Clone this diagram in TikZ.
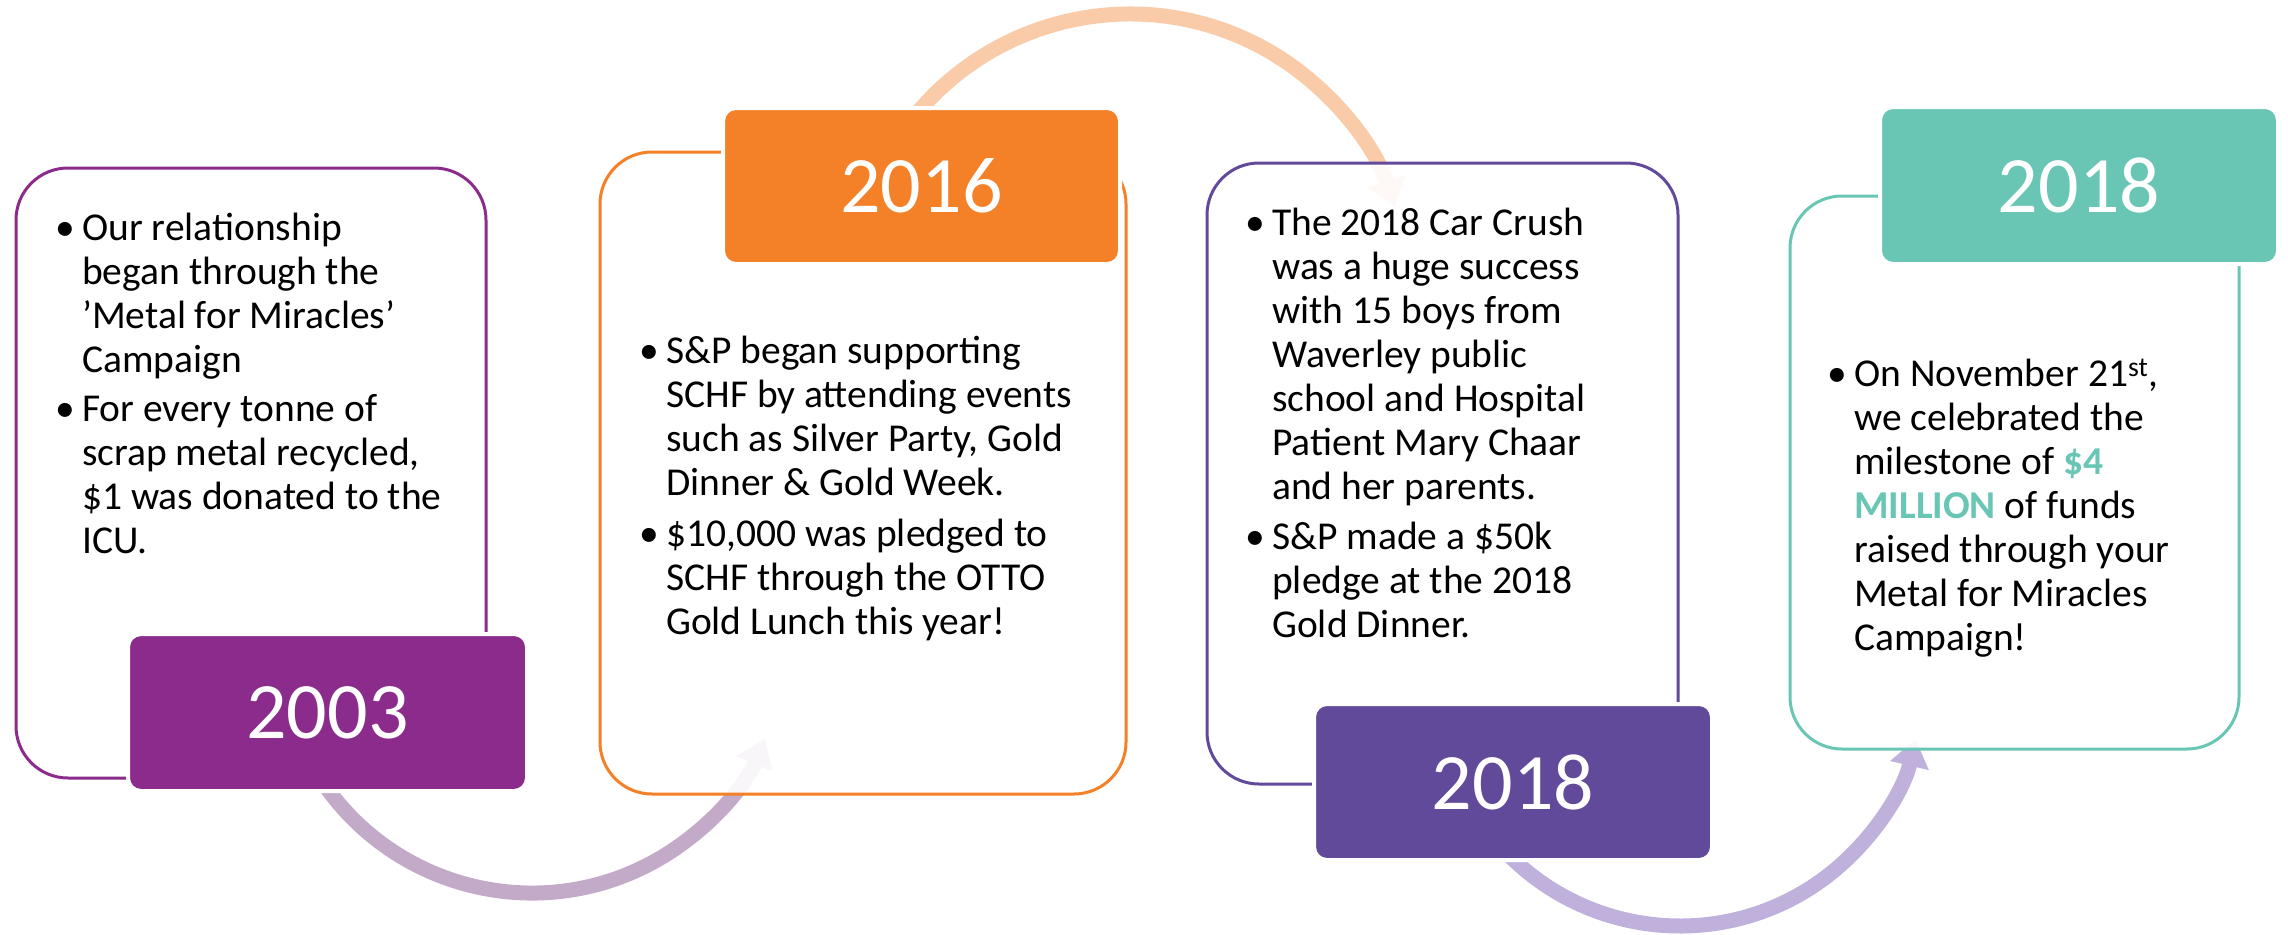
\documentclass[tikz,border=0pt]{standalone}
\usepackage{fontspec}
\setmainfont{Carlito}
\usetikzlibrary{arrows.meta}
\definecolor{cA}{HTML}{8B2C8C}
\definecolor{cB}{HTML}{F48027}
\definecolor{cC}{HTML}{614A9A}
\definecolor{cD}{HTML}{6AC6B4}
\definecolor{aA}{HTML}{C4AAC9}
\definecolor{aB}{HTML}{FACBA8}
\definecolor{aC}{HTML}{BFB1DB}
\newcommand\bodyfont{\fontsize{39.5}{44}\selectfont}
\newcommand\yearfont{\fontsize{80}{90}\selectfont}
\newcommand\bul{\llap{\textbullet\hspace{7pt}}}
\tikzset{
  frame/.style={draw=#1, line width=3pt, rounded corners=52pt, fill=white, fill opacity=0.9, inner sep=0pt},
  yearbox/.style={fill=#1, draw=white, line width=4pt, rounded corners=13pt, text=white, font=\yearfont, inner sep=0pt},
  body/.style={anchor=base west, align=left, inner sep=0pt, font=\bodyfont, text=black},
  arcarrow/.style={line width=15pt, draw=#1, -{Triangle[width=38pt,length=27pt]}},
}
\begin{document}
\begin{tikzpicture}[x=1pt,y=1pt]
\useasboundingbox (0,0) rectangle (2288,-934);
% arc centres
\coordinate (c1) at (532,-640);
\coordinate (c2) at (1130,-292);
\coordinate (c3) at (1680,-684);
% arrows (drawn first, under boxes)
\draw[arcarrow=aA] (c1) ++(-150:253pt) arc[start angle=-150, end angle=-23, radius=253pt];
\draw[arcarrow=aB] (c2) ++(145:278pt) arc[start angle=145, end angle=17.8, radius=278pt];
\draw[arcarrow=aC] (c3) ++(-140:242pt) arc[start angle=-140, end angle=-13.2, radius=242pt];
% frames
\node[frame=cA, minimum width=470pt, minimum height=610pt] (f1) at (251,-473) {};
\node[frame=cB, minimum width=526pt, minimum height=642pt] (f2) at (863,-473) {};
\node[frame=cC, minimum width=471pt, minimum height=621pt] (f3) at (1442.5,-473.5) {};
\node[frame=cD, minimum width=449pt, minimum height=553pt] (f4) at (2014.5,-472.5) {};
% texts (anchored at the baseline of their last line)
\node[body] (t1a) at (82,-372.5) {\bul Our relationship\\began through the\\’Metal for Miracles’\\Campaign};
\node[body] (t1b) at (82,-553.5) {\bul For every tonne of\\scrap metal recycled,\\\$1 was donated to the\\ICU.};
\node[body] (t2a) at (666,-495) {\bul S\&P began supporting\\SCHF by attending events\\such as Silver Party, Gold\\Dinner \& Gold Week.};
\node[body] (t2b) at (666,-634) {\bul \$10,000 was pledged to\\SCHF through the OTTO\\Gold Lunch this year!};
\node[body] (t3a) at (1272,-499) {\bul The 2018 Car Crush\\was a huge success\\with 15 boys from\\Waverley public\\school and Hospital\\Patient Mary Chaar\\and her parents.};
\node[body] (t3b) at (1272,-637.5) {\bul S\&P made a \$50k\\pledge at the 2018\\Gold Dinner.};
\node[body] (t4a) at (1854,-650) {\bul On November 21\textsuperscript{st},\\we celebrated the\\milestone of {\bfseries\color{cD}\$4}\\{\bfseries\color{cD}MILLION} of funds\\raised through your\\Metal for Miracles\\Campaign!};
% year boxes
\node[yearbox=cA, minimum width=399pt, minimum height=157pt] (y1) at (327.5,-712.5) {2003};
\node[yearbox=cB, minimum width=397pt, minimum height=156pt] (y2) at (921.5,-186) {2016};
\node[yearbox=cC, minimum width=398pt, minimum height=156pt] (y3) at (1513,-782) {2018};
\node[yearbox=cD, minimum width=398pt, minimum height=157pt] (y4) at (2079,-185.5) {2018};
\end{tikzpicture}
\end{document}
